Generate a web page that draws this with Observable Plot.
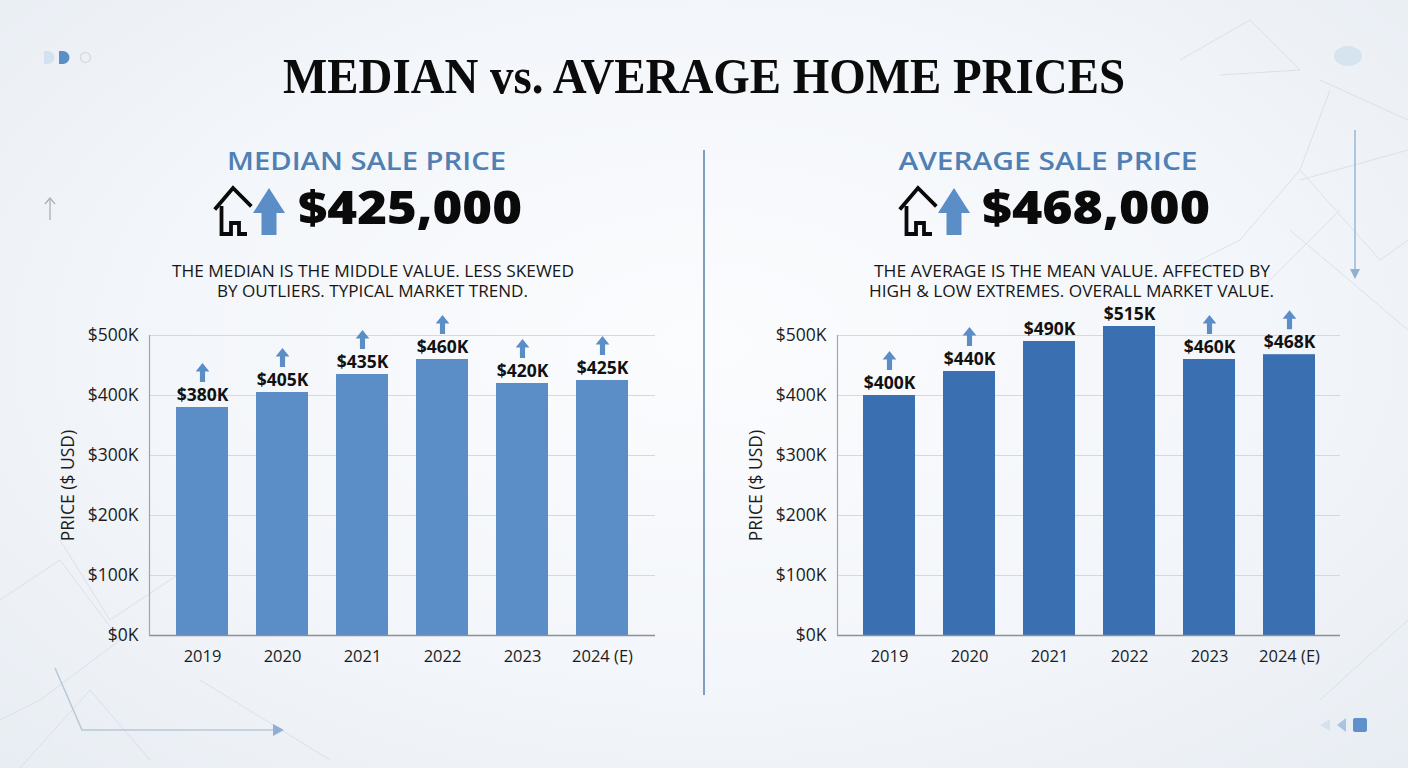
<!DOCTYPE html>
<html>
<head>
<meta charset="utf-8">
<script src="https://cdn.jsdelivr.net/npm/d3@7"></script>
<script src="https://cdn.jsdelivr.net/npm/@observablehq/plot@0.6"></script>
<style>
  html, body { margin: 0; padding: 0; }
  body { width: 1408px; height: 768px; overflow: hidden; }
  #page {
    position: relative; width: 1408px; height: 768px; overflow: hidden;
    background: radial-gradient(ellipse at 50% 45%, #fbfcfe 0%, #f3f6fa 55%, #e8edf3 100%);
    font-family: "Open Sans", sans-serif;
  }
  #page > svg, #page > .chart { position: absolute; }
</style>
</head>
<body>
<div id="page">
  <svg id="deco" width="1408" height="768" style="left:0;top:0">
    <defs>
      <linearGradient id="fadeLine" x1="0" x2="1">
        <stop offset="0" stop-color="#a8bfd6"/>
        <stop offset="1" stop-color="#a8bfd6" stop-opacity="0"/>
      </linearGradient>
    </defs>
    <g stroke="#c9d4df" stroke-width="1" fill="none" opacity="0.55">
      <polyline points="0,600 60,560 120,640 40,700 0,720"/>
      <polyline points="20,768 90,690 150,760"/>
      <polyline points="60,540 110,620 200,560"/>
      <polyline points="1180,60 1250,20 1300,70 1220,75"/>
      <polyline points="1330,90 1300,170 1240,240 1180,270"/>
      <polyline points="1320,80 1408,120"/>
      <polyline points="1300,170 1380,260 1408,240"/>
      <polyline points="1300,180 1408,150"/>
      <polyline points="1290,230 1408,330"/>
      <polyline points="1250,300 1340,210"/>
      <polyline points="1320,700 1408,620"/>
      <polyline points="200,680 330,760"/>
    </g>
    <path d="M44,51 h4 a6.5,6.5 0 0 1 0,13 h-4 Z" fill="#d3e2f1"/>
    <path d="M59,51 h4 a6.5,6.5 0 0 1 0,13 h-4 Z" fill="#5b8dc7"/>
    <circle cx="85.5" cy="57.5" r="5" fill="none" stroke="#d8dde3" stroke-width="1.6"/>
    <line x1="120" y1="57.5" x2="180" y2="57.5" stroke="url(#fadeLine)" stroke-width="1.8"/>
    <g stroke="#a9afb6" stroke-width="1.3" fill="none">
      <line x1="50" y1="198" x2="50" y2="220"/>
      <polyline points="45,204 50,198 55,204"/>
    </g>
    <ellipse cx="1348" cy="56" rx="14" ry="10" fill="#d6e4ef"/>
    <line x1="1355" y1="130" x2="1355" y2="272" stroke="#9fbcd6" stroke-width="1.6"/>
    <polygon points="1350,269 1360,269 1355,279" fill="#8fb0cf"/>
    <polyline points="55,668 82,730 275,730" fill="none" stroke="#b8c8d7" stroke-width="1.5"/>
    <polygon points="273,724 284,730 273,736" fill="#8fb0d2"/>
    <polygon points="1330,719 1320,725 1330,731" fill="#d5e2ee"/>
    <path d="M1346,718 L1337,725 L1346,732 Z" fill="#a9c4e0"/>
    <rect x="1353" y="718" width="14" height="14" rx="2" fill="#5e90c9"/>
    <line x1="704" y1="150" x2="704" y2="695" stroke="#7f9dc1" stroke-width="2"/>
  </svg>
  <svg id="texts" width="1408" height="768" style="left:0;top:0"></svg>
</div>
<script>
// ---------- data ----------
const years = ["2019", "2020", "2021", "2022", "2023", "2024 (E)"];
const medianValues = [380000, 405000, 435000, 460000, 420000, 425000];
const averageValues = [400000, 440000, 490000, 515000, 460000, 468000];
const medianLabels = ["$380K", "$405K", "$435K", "$460K", "$420K", "$425K"];
const averageLabels = ["$400K", "$440K", "$490K", "$515K", "$460K", "$468K"];
const medianArrows = [true, true, true, true, true, true];
const averageArrows = [true, true, false, false, true, true];
const yTicks = [0, 100000, 200000, 300000, 400000, 500000];
const yTickLabels = ["$0K", "$100K", "$200K", "$300K", "$400K", "$500K"];

const title = "MEDIAN vs. AVERAGE HOME PRICES";
const panels = [
  {heading: "MEDIAN SALE PRICE", total: "$425,000",
   desc: ["THE MEDIAN IS THE MIDDLE VALUE. LESS SKEWED", "BY OUTLIERS. TYPICAL MARKET TREND."]},
  {heading: "AVERAGE SALE PRICE", total: "$468,000",
   desc: ["THE AVERAGE IS THE MEAN VALUE. AFFECTED BY", "HIGH & LOW EXTREMES. OVERALL MARKET VALUE."]}
];

// ---------- header texts ----------
const NS = "http://www.w3.org/2000/svg";
const T = document.getElementById("texts");
function addText(str, x, y, opts) {
  const t = document.createElementNS(NS, "text");
  t.textContent = str;
  t.setAttribute("x", x); t.setAttribute("y", y);
  t.setAttribute("text-anchor", opts.anchor || "middle");
  t.setAttribute("font-family", opts.family || "'Open Sans', sans-serif");
  t.setAttribute("font-size", opts.size);
  t.setAttribute("font-weight", opts.weight || 400);
  t.setAttribute("fill", opts.fill || "#111");
  if (opts.length) { t.setAttribute("textLength", opts.length); t.setAttribute("lengthAdjust", "spacingAndGlyphs"); }
  T.appendChild(t);
  return t;
}
addText(title, 704, 93, {family: "'Liberation Serif', 'Times New Roman', serif", size: 51, weight: 700, fill: "#0b0b0b", length: 842});

const layout = [
  {hx: 366.5, hl: 279, tx: 298, tl: 224, icon: 214, d: [[373, 402], [372.5, 311]]},
  {hx: 1048, hl: 299, tx: 982, tl: 228, icon: 899, d: [[1072, 396], [1071.5, 405]]}
];
panels.forEach((p, i) => {
  const L = layout[i];
  addText(p.heading, L.hx, 170, {size: 26, weight: 600, fill: "#4f7fb3", length: L.hl});
  addText(p.total, L.tx, 224, {anchor: "start", size: 46, weight: 800, fill: "#0a0a0a", length: L.tl});
  addText(p.desc[0], L.d[0][0], 277, {size: 16, weight: 400, fill: "#161616", length: L.d[0][1]});
  addText(p.desc[1], L.d[1][0], 297, {size: 16, weight: 400, fill: "#161616", length: L.d[1][1]});
  const g = document.createElementNS(NS, "g");
  g.setAttribute("transform", `translate(${L.icon},185)`);
  g.innerHTML = `
    <path d="M2,23 L19,3 L36,20" fill="none" stroke="#0a0a0a" stroke-width="3.8" stroke-linejoin="miter" stroke-linecap="square"/>
    <path d="M7.5,21 V49 H17 V38 H25 V49 H33" fill="none" stroke="#0a0a0a" stroke-width="3.8" stroke-linejoin="miter"/>
    <polygon points="39,28 55,3 71,28 62.5,28 62.5,50 47.5,50 47.5,28" fill="#5b8dc7"/>`;
  T.appendChild(g);
});

// ---------- charts ----------
const upArrow = {
  draw(ctx, size) {
    const r = Math.sqrt(size / Math.PI);
    ctx.moveTo(0, -r);
    ctx.lineTo(0.72 * r, -0.1 * r);
    ctx.lineTo(0.27 * r, -0.1 * r);
    ctx.lineTo(0.27 * r, r);
    ctx.lineTo(-0.27 * r, r);
    ctx.lineTo(-0.27 * r, -0.1 * r);
    ctx.lineTo(-0.72 * r, -0.1 * r);
    ctx.closePath();
  }
};

function makeChart(values, labels, arrows, color, left, marginRight) {
  const data = years.map((y, i) => ({year: y, value: values[i], label: labels[i], arrow: arrows[i]}));
  const svg = Plot.plot({
    width: 640, height: 380,
    marginLeft: 109, marginRight: marginRight, marginTop: 35, marginBottom: 45,
    style: {background: "transparent", fontFamily: "'Open Sans', sans-serif", fontSize: "16px", color: "#1c1c1c", overflow: "visible"},
    x: {domain: years, paddingInner: 0.353, paddingOuter: 0.32},
    y: {domain: [0, 500000]},
    marks: [
      Plot.gridY(yTicks, {stroke: "#d2d9e2", strokeOpacity: 1, strokeWidth: 1}),
      Plot.barY(data, {x: "year", y: "value", fill: color}),
      Plot.ruleY([0], {stroke: "#8b9098", strokeWidth: 1.5}),
      Plot.frame({anchor: "left", stroke: "#a0a6ae", strokeWidth: 1.2}),
      Plot.axisX({tickSize: 0, tickPadding: 15, fontSize: 16.5, label: null}),
      Plot.axisY({ticks: yTicks, tickFormat: (d) => yTickLabels[yTicks.indexOf(d)], tickSize: 0, tickPadding: 11, fontSize: 17.5,
        label: "PRICE ($ USD)", labelAnchor: "center", labelArrow: "none", labelOffset: 88}),
      Plot.text(data, {x: "year", y: "value", text: "label", dy: -12, fontSize: 17.5, fontWeight: 700, fill: "#111"}),
      Plot.dot(data.filter((d) => d.arrow), {x: "year", y: "value", dy: -35, r: 9.5, symbol: upArrow, fill: "#5b8dc7", stroke: "none"})
    ]
  });
  svg.classList.add("chart");
  svg.style.position = "absolute";
  svg.style.left = left + "px";
  svg.style.top = "300px";
  document.getElementById("page").appendChild(svg);
}
makeChart(medianValues, medianLabels, medianArrows, "#5b8dc7", 40, 25);
makeChart(averageValues, averageLabels, averageArrows, "#3a70b2", 728, 28);
</script>
</body>
</html>
